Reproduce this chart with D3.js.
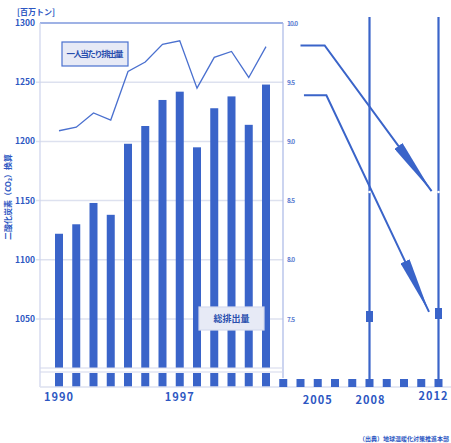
<!DOCTYPE html>
<html lang="ja">
<head>
<meta charset="UTF-8">
<title>二酸化炭素排出量</title>
<script src="https://cdn.jsdelivr.net/npm/d3@7/dist/d3.min.js"></script>
<style>
  body { margin: 0; background: #fff; }
  text { font-family: "Noto Sans CJK JP", "Noto Sans", sans-serif; }
</style>
</head>
<body>
<script>
// 総排出量（百万トン）
const years = [1990, 1991, 1992, 1993, 1994, 1995, 1996, 1997, 1998, 1999, 2000, 2001, 2002];
const totalEmissions = [1122, 1130, 1148, 1138, 1198, 1213, 1235, 1242, 1195, 1228, 1238, 1214, 1248];
// 一人当たり排出量（トン）
const perCapita = [9.09, 9.12, 9.24, 9.18, 9.59, 9.67, 9.82, 9.85, 9.45, 9.71, 9.76, 9.54, 9.80];
// 2003年以降（軸の下の部分だけ）
const futureYears = [2003, 2004, 2005, 2006, 2007, 2008, 2009, 2010, 2011, 2012];
const periodYears = [2008, 2012];
const xLabels = [1990, 1997, 2005, 2008, 2012];
const leftTicks = [1050, 1100, 1150, 1200, 1250, 1300];
const rightTicks = [7.5, 8.0, 8.5, 9.0, 9.5, 10.0];
// 矢印（年, 百万トン）
const arrowUpper = [[2004.0, 1281], [2005.4, 1281], [2011.6, 1158]];
const arrowLower = [[2004.2, 1239], [2005.5, 1239], [2011.45, 1056]];

const W = 451, H = 443;
const blue = '#3a64c9';
const textBlue = '#2d57c2';

const svg = d3.select('body').append('svg')
  .attr('width', W).attr('height', H);

const defs = svg.append('defs');
defs.append('marker')
  .attr('id', 'arr')
  .attr('viewBox', '0 0 56 10')
  .attr('refX', 56).attr('refY', 5)
  .attr('markerWidth', 56).attr('markerHeight', 10)
  .attr('markerUnits', 'userSpaceOnUse')
  .attr('orient', 'auto')
  .append('path')
  .attr('d', 'M0,0 L56,5 L0,10 Z')
  .attr('fill', blue);

// scales
const x = d3.scaleLinear().domain([1990, 2012]).range([59, 438.5]);
const y = d3.scaleLinear().domain([1000, 1300]).range([378.2, 23]);
const yR = d3.scaleLinear().domain([7.5, 10]).range([319, 23]);

const left = 40, right = 283, breakTop = 368, breakBot = 373, base = 387;
const barW = 8;

// grid
svg.selectAll('line.grid')
  .data(leftTicks.filter(d => d !== 1300))
  .enter().append('line')
  .attr('x1', left - 4).attr('x2', right)
  .attr('y1', d => y(d)).attr('y2', d => y(d))
  .attr('stroke', '#dde1ef').attr('stroke-width', 1.5);

svg.append('line')
  .attr('x1', left).attr('x2', right)
  .attr('y1', y(1300)).attr('y2', y(1300))
  .attr('stroke', '#7f98dc').attr('stroke-width', 1.5);

// left axis line
svg.append('line')
  .attr('x1', left).attr('x2', left)
  .attr('y1', y(1300)).attr('y2', base)
  .attr('stroke', '#cdd3ec').attr('stroke-width', 1.2);

// right axis line
svg.append('line')
  .attr('x1', right).attr('x2', right)
  .attr('y1', y(1300)).attr('y2', 378)
  .attr('stroke', '#a9b8e6').attr('stroke-width', 1.2);

// bars (upper part)
svg.selectAll('rect.bar')
  .data(years)
  .enter().append('rect')
  .attr('x', d => x(d) - barW / 2)
  .attr('y', (d, i) => y(totalEmissions[i]))
  .attr('width', barW)
  .attr('height', (d, i) => breakTop - y(totalEmissions[i]))
  .attr('fill', blue);

// bars (below the break)
svg.selectAll('rect.stub')
  .data(years)
  .enter().append('rect')
  .attr('x', d => x(d) - barW / 2)
  .attr('y', breakBot)
  .attr('width', barW)
  .attr('height', base - breakBot)
  .attr('fill', blue);

// break lines
[breakTop, breakBot - 1].forEach(v => {
  svg.append('line')
    .attr('x1', left).attr('x2', right)
    .attr('y1', v).attr('y2', v)
    .attr('stroke', '#d3d8ec').attr('stroke-width', 1.2);
});

// base line
svg.append('line')
  .attr('x1', left).attr('x2', W)
  .attr('y1', base).attr('y2', base)
  .attr('stroke', '#dde1ef').attr('stroke-width', 1.5);

// future stubs
svg.selectAll('rect.future')
  .data(futureYears)
  .enter().append('rect')
  .attr('x', d => x(d) - barW / 2)
  .attr('y', 379)
  .attr('width', barW)
  .attr('height', base - 379)
  .attr('fill', blue);

// per capita line
svg.append('path')
  .datum(years)
  .attr('d', d3.line().x(d => x(d)).y((d, i) => yR(perCapita[i])))
  .attr('fill', 'none')
  .attr('stroke', '#4a70cf')
  .attr('stroke-width', 1.3);

// period lines 2008 / 2012
svg.selectAll('line.period')
  .data(periodYears)
  .enter().append('line')
  .attr('x1', d => x(d)).attr('x2', d => x(d))
  .attr('y1', 17).attr('y2', base)
  .attr('stroke', blue).attr('stroke-width', 2.2);

// arrows
[arrowUpper, arrowLower].forEach(a => {
  svg.append('path')
    .attr('d', d3.line().x(d => x(d[0])).y(d => y(d[1]))(a))
    .attr('fill', 'none')
    .attr('stroke', blue)
    .attr('stroke-width', 2)
    .attr('marker-end', 'url(#arr)');
});

// markers on the period lines
svg.selectAll('rect.mark')
  .data(periodYears)
  .enter().append('rect')
  .attr('x', d => x(d) - 3.5)
  .attr('y', (d, i) => i === 0 ? 311 : 308)
  .attr('width', 7).attr('height', 11)
  .attr('fill', blue);

svg.selectAll('circle.cross')
  .data(periodYears)
  .enter().append('circle')
  .attr('cx', d => x(d)).attr('cy', 192)
  .attr('r', 1.3).attr('fill', '#fff');

// left tick labels
svg.selectAll('text.yl')
  .data(leftTicks)
  .enter().append('text')
  .attr('x', 35).attr('y', d => y(d) + 3)
  .attr('text-anchor', 'end')
  .attr('font-size', 8.5).attr('font-weight', 700)
  .attr('fill', textBlue)
  .text(d => d);

// right tick labels
svg.selectAll('text.yr')
  .data(rightTicks)
  .enter().append('text')
  .attr('x', 287).attr('y', d => yR(d) + 2.5)
  .attr('font-size', 6.5).attr('font-weight', 700)
  .attr('fill', '#5b7bd0')
  .attr('textLength', d => d >= 10 ? 11 : 8)
  .text(d3.format('.1f'));

// x labels
svg.selectAll('text.xl')
  .data(xLabels)
  .enter().append('text')
  .attr('x', d => x(d) + (d === 2012 ? -5 : d === 2008 ? 1 : 0))
  .attr('y', d => d === 2012 ? 400 : d < 2000 ? 401 : 404)
  .attr('text-anchor', 'middle')
  .attr('font-size', 11).attr('font-weight', 700)
  .attr('letter-spacing', 1)
  .attr('fill', textBlue)
  .text(d => d);

// unit
svg.append('text')
  .attr('x', 17).attr('y', 15)
  .attr('font-size', 8).attr('font-weight', 700)
  .attr('fill', textBlue)
  .text('[百万トン]');

// y title
svg.append('text')
  .attr('transform', 'translate(11,197) rotate(-90)')
  .attr('text-anchor', 'middle')
  .attr('font-size', 8).attr('font-weight', 700)
  .attr('fill', textBlue)
  .text('二酸化炭素（CO₂）換算');

// legend boxes
function labelBox(bx, by, bw, bh, label, stroke, fs, tl) {
  svg.append('rect')
    .attr('x', bx).attr('y', by).attr('width', bw).attr('height', bh)
    .attr('fill', '#e7eaf6').attr('stroke', stroke).attr('stroke-width', 1.2);
  svg.append('text')
    .attr('x', bx + (bw - tl) / 2).attr('y', by + bh / 2 + fs * 0.38)
    .attr('font-size', fs).attr('font-weight', 700)
    .attr('textLength', tl)
    .attr('fill', '#2a4fae')
    .text(label);
}
labelBox(62, 42, 66, 24, '一人当たり排出量', '#4a70cf', 8.5, 57);
labelBox(199, 307, 65, 23, '総排出量', '#d6daee', 9, 36);

// source
svg.append('text')
  .attr('x', 449).attr('y', 441)
  .attr('text-anchor', 'end')
  .attr('font-size', 6).attr('font-weight', 700)
  .attr('fill', textBlue)
  .text('（出典）地球温暖化対策推進本部');
</script>
</body>
</html>
